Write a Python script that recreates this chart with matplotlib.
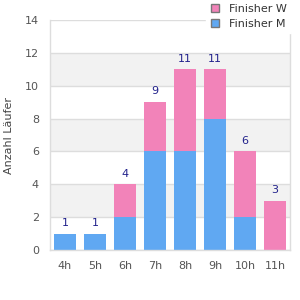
import matplotlib
matplotlib.use("Agg")
import matplotlib.pyplot as plt
from matplotlib.patches import Patch

categories = ["4h", "5h", "6h", "7h", "8h", "9h", "10h", "11h"]
finisher_m = [1, 1, 2, 6, 6, 8, 2, 0]
finisher_w = [0, 0, 2, 3, 5, 3, 4, 3]
y_ticks = [0, 2, 4, 6, 8, 10, 12, 14]

blue = "#60a8f2"
pink = "#f283b9"
label_col = "#22228c"
tick_col = "#555555"
grid_col = "#dddddd"

fig = plt.figure(figsize=(3, 3), dpi=100)
ax = fig.add_axes([50/300, 50/300, 240/300, 230/300])

x = list(range(len(categories)))
for i in range(0, 14, 2):
    if (i // 2) % 2 == 1:
        ax.axhspan(i, i + 2, color="#f2f2f2", zorder=0, lw=0)
for t in y_ticks:
    ax.axhline(t, color=grid_col, lw=1, zorder=1)

ax.bar(x, finisher_m, width=0.73, color=blue, zorder=2)
ax.bar(x, finisher_w, width=0.73, bottom=finisher_m, color=pink, zorder=2)
for xi, m, w in zip(x, finisher_m, finisher_w):
    tot = m + w
    ax.text(xi, tot + 0.35, str(tot), ha="center", va="bottom", color=label_col, fontsize=8, zorder=3)

ax.set_xlim(-0.5, len(categories) - 0.5)
ax.set_ylim(0, 14)
ax.set_yticks(y_ticks)
ax.set_xticks(x)
ax.set_xticklabels(categories)
ax.tick_params(axis="both", length=0, colors=tick_col, labelsize=8)
ax.tick_params(axis="x", pad=8)
ax.tick_params(axis="y", pad=8)
ax.spines["top"].set_visible(False)
for s in ["left", "right", "bottom"]:
    ax.spines[s].set_color(grid_col)
    ax.spines[s].set_linewidth(1)
ax.set_ylabel("Anzahl Läufer", color="#444444", fontsize=8)
ax.yaxis.set_label_coords(-0.15, 0.5)

handles = [Patch(facecolor=pink, edgecolor="#777777", label="Finisher W"),
           Patch(facecolor=blue, edgecolor="#777777", label="Finisher M")]
leg = fig.legend(handles=handles, loc="upper right", bbox_to_anchor=(0.98, 1.01),
                 frameon=True, fontsize=8, handlelength=0.8, handleheight=0.8,
                 labelspacing=0.45, handletextpad=0.9, borderaxespad=0.2)
leg.get_frame().set_edgecolor("white")
leg.get_frame().set_facecolor("white")
leg.get_frame().set_alpha(1)
leg.set_zorder(10)
for t in leg.get_texts():
    t.set_color("#333333")

fig.savefig("out.png", dpi=100)
